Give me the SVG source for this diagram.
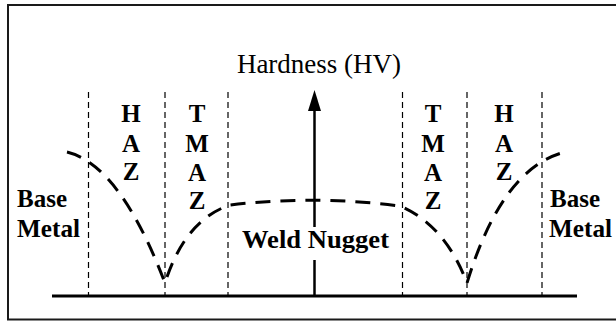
<svg xmlns="http://www.w3.org/2000/svg" width="616" height="321" viewBox="0 0 616 321">
<defs>
<style>
.zone{stroke:#000;stroke-width:1.2;stroke-dasharray:6 4;fill:none}
.lbl{font-weight:bold;font-size:25px;fill:#000}
.zl{text-anchor:middle}
.title{font-size:27px;fill:#000;text-anchor:middle}
.curve{stroke:#000;stroke-width:3;stroke-dasharray:15 10;fill:none}
</style>
</defs>
<rect x="0" y="0" width="616" height="321" fill="#fff"/>
<rect id="frame" x="8" y="5" width="620" height="314.5" fill="none" stroke="#1a1a1a" stroke-width="2"/>
<g id="connectors">
<line x1="52" y1="296" x2="577" y2="296" stroke="#000" stroke-width="3"/>
<line class="zone" x1="88.5" y1="92" x2="88.5" y2="296"/>
<line class="zone" x1="165" y1="92" x2="165" y2="296"/>
<line class="zone" x1="228" y1="92" x2="228" y2="296"/>
<line class="zone" x1="402.5" y1="92" x2="402.5" y2="296"/>
<line class="zone" x1="467" y1="92" x2="467" y2="296"/>
<line class="zone" x1="542" y1="92" x2="542" y2="296"/>
<line x1="314.5" y1="296" x2="314.5" y2="260" stroke="#000" stroke-width="2.5"/>
<line x1="314.5" y1="227" x2="314.5" y2="108" stroke="#000" stroke-width="2.5"/>
<path d="M308,111 L314.5,90 L321,111 Z" fill="#000"/>
<path class="curve" d="M67,152 Q120,165 165,283 Q185,220 230,205 Q315,195 400,206 Q445,225 467,283 Q502,168 565,152"/>
</g>
<g font-family="Liberation Serif, Times New Roman, DejaVu Serif, serif">
<g id="title"><text class="title" x="319" y="73">Hardness (HV)</text></g>
<g id="haz-left" class="lbl zl">
<text x="131" y="122">H</text><text x="131" y="152">A</text><text x="131" y="180">Z</text>
</g>
<g id="tmaz-left" class="lbl zl">
<text x="197" y="122">T</text><text x="197" y="152">M</text><text x="197" y="181">A</text><text x="197" y="209">Z</text>
</g>
<g id="tmaz-right" class="lbl zl">
<text x="433" y="122">T</text><text x="433" y="152">M</text><text x="433" y="181">A</text><text x="433" y="209">Z</text>
</g>
<g id="haz-right" class="lbl zl">
<text x="504" y="122">H</text><text x="504" y="152">A</text><text x="504" y="180">Z</text>
</g>
<g id="base-left" class="lbl">
<text x="17" y="207" textLength="50" lengthAdjust="spacingAndGlyphs">Base</text>
<text x="17" y="237" textLength="63" lengthAdjust="spacingAndGlyphs">Metal</text>
</g>
<g id="base-right" class="lbl">
<text x="550" y="207" textLength="50" lengthAdjust="spacingAndGlyphs">Base</text>
<text x="549" y="237" textLength="63" lengthAdjust="spacingAndGlyphs">Metal</text>
</g>
<g id="weld-nugget" class="lbl">
<text x="242" y="248" textLength="147" lengthAdjust="spacingAndGlyphs">Weld Nugget</text>
</g>
</g>
</svg>
